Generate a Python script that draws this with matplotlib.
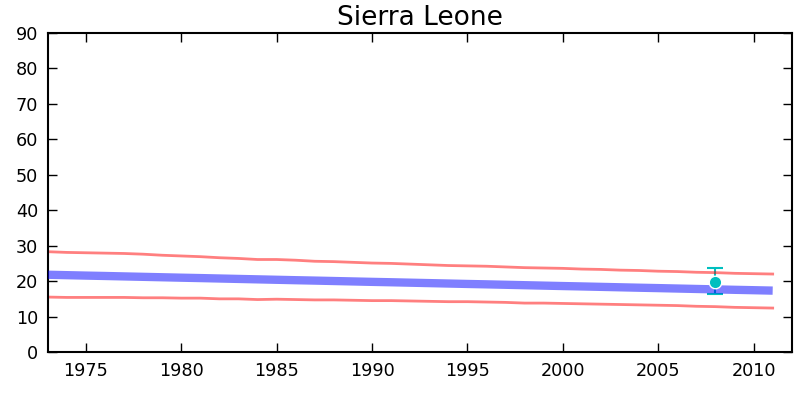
import matplotlib
matplotlib.use("Agg")
import matplotlib.pyplot as plt

title = "Sierra Leone"
years = list(range(1973, 2012))
central = [21.80, 21.68, 21.56, 21.45, 21.33, 21.21, 21.09, 20.97, 20.86, 20.74,
           20.62, 20.50, 20.38, 20.26, 20.15, 20.03, 19.91, 19.79, 19.68, 19.56,
           19.44, 19.32, 19.20, 19.09, 18.97, 18.85, 18.73, 18.61, 18.50, 18.38,
           18.26, 18.14, 18.03, 17.91, 17.79, 17.67, 17.55, 17.44, 17.32]
upper = [28.3, 28.1, 28.0, 27.9, 27.8, 27.6, 27.3, 27.1, 26.9, 26.6,
         26.4, 26.1, 26.1, 25.9, 25.6, 25.5, 25.3, 25.1, 25.0, 24.8,
         24.6, 24.4, 24.3, 24.2, 24.0, 23.8, 23.7, 23.6, 23.4, 23.3,
         23.1, 23.0, 22.8, 22.7, 22.5, 22.4, 22.2, 22.1, 22.0]
lower = [15.5, 15.4, 15.4, 15.4, 15.4, 15.3, 15.3, 15.2, 15.2, 15.0,
         15.0, 14.8, 14.9, 14.8, 14.7, 14.7, 14.6, 14.5, 14.5, 14.4,
         14.3, 14.2, 14.2, 14.1, 14.0, 13.8, 13.8, 13.7, 13.6, 13.5,
         13.4, 13.3, 13.2, 13.1, 12.9, 12.8, 12.6, 12.5, 12.4]
obs_year = [2008]
obs_value = [19.7]
obs_low = [16.3]
obs_high = [23.6]
xticks = [1975, 1980, 1985, 1990, 1995, 2000, 2005, 2010]
yticks = [0, 10, 20, 30, 40, 50, 60, 70, 80, 90]

fig = plt.figure(figsize=(8.03, 3.93), dpi=100)
ax = fig.add_axes([0.0594, 0.1043, 0.9266, 0.8117])

yerr = [[v - lo for v, lo in zip(obs_value, obs_low)],
        [hi - v for v, hi in zip(obs_value, obs_high)]]
ax.errorbar(obs_year, obs_value, yerr=yerr, fmt='none', ecolor='c',
            elinewidth=1.5, capsize=6, capthick=1.5, zorder=1)
ax.plot(years, upper, color='red', alpha=0.5, lw=2, zorder=2)
ax.plot(years, lower, color='red', alpha=0.5, lw=2, zorder=2)
ax.plot(years, central, color='blue', alpha=0.5, lw=6, zorder=3,
        solid_capstyle='butt')
ax.plot(obs_year, obs_value, 'o', color='c', mec='white', mew=1,
        ms=9, zorder=5)

ax.set_xlim(1973, 2012)
ax.set_ylim(0, 90)
ax.set_xticks(xticks)
ax.set_yticks(yticks)
ax.tick_params(direction='in', length=6.5, width=1, labelsize=12.7,
               top=True, right=True, pad=7)
for s in ax.spines.values():
    s.set_linewidth(1.5)
ax.set_title(title, fontsize=19, pad=6)

fig.savefig("out.png", dpi=100)
